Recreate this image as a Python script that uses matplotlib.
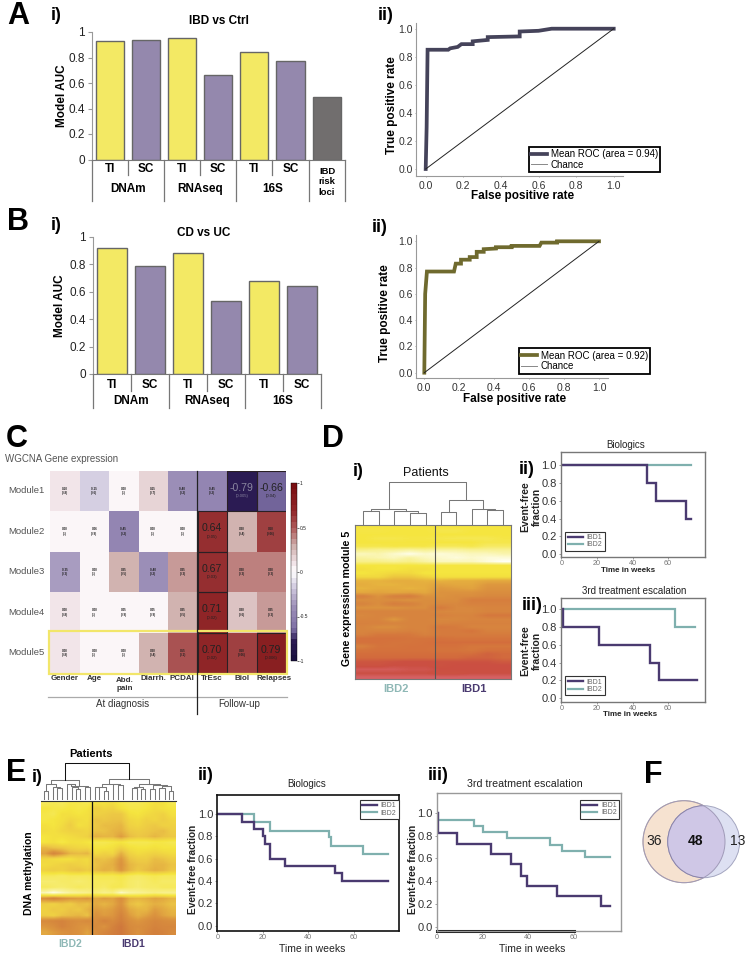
import matplotlib
matplotlib.use('Agg')
import matplotlib.pyplot as plt
from matplotlib.colors import LinearSegmentedColormap
from matplotlib.patches import Circle, Rectangle

W, H = 749, 957
plt.rcParams['font.family'] = ['Liberation Sans', 'DejaVu Sans']
plt.rcParams['axes.unicode_minus'] = True

# Bars
bar_labels_a = ['TI', 'SC', 'TI', 'SC', 'TI', 'SC', '']
auc_a = [0.93, 0.94, 0.955, 0.665, 0.84, 0.775, 0.49]
bar_labels_b = ['TI', 'SC', 'TI', 'SC', 'TI', 'SC']
auc_b = [0.92, 0.79, 0.88, 0.53, 0.68, 0.64]
groups = ['DNAm', 'RNAseq', '16S']

# ROC curves
roc_a_x = [0, 0.005, 0.01, 0.12, 0.13, 0.17, 0.19, 0.25, 0.25, 0.33, 0.33, 0.5, 0.5, 0.6, 0.67, 1]
roc_a_y = [0, 0.3, 0.85, 0.85, 0.86, 0.87, 0.89, 0.89, 0.91, 0.92, 0.94, 0.945, 0.98, 0.985, 1, 1]
roc_b_x = [0, 0.005, 0.015, 0.17, 0.18, 0.21, 0.21, 0.26, 0.26, 0.3, 0.3, 0.34, 0.34, 0.41, 0.41, 0.5, 0.5, 0.66, 0.67, 0.76, 0.76, 1]
roc_b_y = [0, 0.6, 0.77, 0.77, 0.83, 0.83, 0.86, 0.86, 0.88, 0.88, 0.92, 0.92, 0.94, 0.945, 0.955, 0.955, 0.965, 0.965, 0.99, 0.99, 1, 1]

# WGCNA heatmap
modules = ['Module1', 'Module2', 'Module3', 'Module4', 'Module5']
traits = ['Gender', 'Age', 'Abd.\npain', 'Diarrh.', 'PCDAI', 'TrEsc', 'Biol', 'Relapses']
corr = [[0.10, -0.15, 0.00, 0.15, -0.40, -0.45, -0.79, -0.66],
        [0.00, 0.06, -0.45, 0.00, 0.00, 0.64, 0.30, 0.60],
        [-0.35, 0.00, 0.25, -0.40, 0.35, 0.67, 0.38, 0.38],
        [0.08, 0.00, 0.05, 0.05, 0.25, 0.71, 0.20, 0.35],
        [0.08, 0.00, 0.00, 0.30, 0.55, 0.70, 0.60, 0.79]]
pvals = [[0.8, 0.6, 1.0, 0.7, 0.2, 0.2, 0.005, 0.04],
         [1.0, 0.9, 0.2, 1.0, 1.0, 0.05, 0.4, 0.06],
         [0.3, 1.0, 0.5, 0.2, 0.3, 0.03, 0.3, 0.3],
         [0.8, 1.0, 0.9, 0.9, 0.5, 0.02, 0.6, 0.3],
         [0.8, 1.0, 1.0, 0.4, 0.1, 0.02, 0.06, 0.006]]

# Gene expression module 5 heatmap, top row first (IBD2 | IBD1)
expr_d = [
    [72, 72, 72, 72, 72, 72, 72, 72, 72, 72],
    [73, 73, 72, 72, 72, 74, 74, 72, 72, 72],
    [72, 72, 72, 72, 72, 72, 72, 72, 72, 72],
    [72, 74, 74, 73, 73, 74, 75, 75, 75, 73],
    [72, 72, 72, 72, 72, 72, 72, 72, 74, 74],
    [74, 74, 73, 73, 73, 76, 76, 74, 78, 78],
    [84, 86, 86, 88, 86, 88, 88, 86, 86, 86],
    [92, 90, 94, 98, 94, 96, 94, 92, 92, 90],
    [88, 90, 92, 88, 92, 94, 96, 94, 96, 96],
    [84, 84, 86, 84, 88, 92, 92, 92, 96, 100],
    [72, 72, 72, 72, 72, 72, 72, 72, 72, 72],
    [70, 72, 72, 70, 70, 72, 72, 72, 72, 72],
    [72, 70, 68, 68, 72, 72, 72, 72, 72, 72],
    [68, 68, 62, 62, 66, 70, 70, 70, 70, 70],
    [56, 56, 54, 54, 56, 56, 54, 54, 52, 52],
    [54, 56, 56, 54, 54, 50, 52, 52, 46, 46],
    [56, 54, 54, 56, 54, 46, 48, 50, 44, 44],
    [52, 50, 52, 50, 52, 44, 44, 44, 42, 42],
    [36, 44, 36, 34, 44, 44, 42, 42, 40, 40],
    [42, 42, 42, 44, 42, 42, 42, 34, 34, 34],
    [38, 42, 34, 36, 42, 40, 40, 36, 36, 36],
    [44, 44, 44, 42, 42, 32, 40, 40, 38, 38],
    [38, 38, 38, 38, 38, 40, 40, 40, 38, 38],
    [40, 38, 38, 38, 38, 36, 38, 38, 30, 30],
    [38, 38, 46, 38, 38, 40, 40, 38, 38, 38],
    [36, 36, 38, 38, 38, 38, 36, 36, 36, 36],
    [38, 42, 42, 38, 38, 30, 32, 38, 38, 38],
    [38, 38, 38, 36, 38, 32, 32, 28, 36, 36],
    [36, 30, 30, 30, 36, 32, 32, 32, 32, 32],
    [26, 26, 26, 28, 28, 26, 28, 28, 28, 28],
    [26, 26, 28, 28, 26, 24, 24, 24, 24, 24],
    [36, 28, 28, 26, 26, 26, 26, 30, 30, 30],
    [28, 26, 26, 26, 26, 28, 28, 30, 26, 26],
    [24, 24, 24, 24, 24, 24, 24, 24, 18, 22],
    [22, 22, 22, 22, 22, 22, 22, 18, 18, 22],
    [12, 12, 10, 8, 8, 10, 10, 10, 10, 14],
    [10, 10, 8, 8, 8, 10, 8, 8, 8, 8],
    [4, 4, 4, 6, 6, 8, 8, 8, 8, 8],
    [8, 8, 8, 8, 8, 10, 10, 8, 8, 8],
    [2, 2, 2, 2, 2, 2, 2, 2, 2, 2]]

# DNA methylation heatmap, top row first (IBD2 | IBD1)
meth_e = [
    [74, 72, 74, 70, 70, 72, 66, 66, 64, 70, 72, 72, 70, 66, 66, 72],
    [68, 70, 70, 68, 70, 68, 58, 62, 60, 66, 70, 70, 68, 64, 66, 68],
    [70, 72, 66, 66, 68, 66, 60, 58, 56, 56, 66, 68, 64, 62, 60, 66],
    [70, 68, 66, 62, 64, 66, 54, 56, 54, 54, 62, 64, 60, 62, 58, 62],
    [66, 68, 64, 58, 66, 64, 56, 52, 52, 50, 60, 62, 58, 56, 60, 60],
    [64, 66, 62, 60, 60, 62, 54, 54, 50, 48, 56, 58, 56, 54, 52, 58],
    [68, 66, 66, 64, 62, 60, 48, 50, 50, 42, 52, 56, 54, 50, 54, 56],
    [68, 66, 70, 66, 66, 68, 72, 72, 70, 68, 72, 72, 72, 70, 70, 72],
    [50, 54, 56, 60, 62, 62, 68, 68, 66, 60, 66, 68, 68, 66, 68, 68],
    [44, 32, 40, 50, 52, 50, 64, 60, 62, 48, 60, 64, 62, 60, 62, 64],
    [62, 64, 66, 66, 62, 64, 52, 54, 50, 40, 54, 58, 58, 52, 54, 58],
    [64, 62, 60, 58, 60, 62, 54, 50, 48, 38, 50, 54, 54, 50, 50, 54],
    [60, 58, 60, 56, 54, 58, 52, 48, 50, 40, 50, 56, 52, 48, 50, 56],
    [74, 74, 76, 74, 74, 74, 72, 72, 72, 70, 74, 76, 74, 72, 74, 74],
    [78, 78, 76, 76, 78, 76, 74, 74, 74, 72, 76, 78, 76, 74, 76, 76],
    [74, 76, 78, 76, 74, 76, 74, 76, 72, 72, 76, 78, 76, 76, 74, 74],
    [92, 98, 92, 88, 86, 84, 80, 84, 82, 94, 88, 86, 84, 82, 84, 84],
    [36, 30, 36, 40, 42, 40, 46, 42, 44, 36, 48, 50, 48, 44, 46, 50],
    [58, 60, 56, 58, 52, 54, 46, 50, 46, 38, 52, 56, 52, 48, 50, 54],
    [60, 56, 58, 54, 56, 50, 42, 44, 42, 34, 46, 50, 50, 42, 46, 50],
    [58, 60, 54, 52, 50, 54, 38, 42, 40, 30, 42, 48, 44, 38, 44, 48],
    [34, 32, 30, 34, 36, 34, 36, 30, 34, 28, 36, 40, 36, 32, 34, 36],
    [40, 36, 30, 34, 38, 40, 34, 38, 30, 24, 34, 36, 34, 30, 32, 32],
    [46, 42, 38, 36, 38, 44, 36, 32, 28, 24, 32, 38, 32, 28, 30, 34]]

# Dendrograms: leaf = position, link = (left, right, height)
dend_d = (((130, 177, 272), (223, (270, 317, 278), 272), 266),
          ((362, 409, 275), (455, (502, 549, 271), 266), 241), 187)
dend_e = ((((27, 39, 122), (53, (67, 80, 115), 112), 103),
           ((97, (110, (123, 135, 118), 112), 102), (150, 165, 112), 108), 90),
          ((((180, 192, 112), (207, 220, 122), 110), (234, (248, 263, 105), 103), 102),
           (((291, 305, 115), (318, 330, 118), 112),
            ((345, 360, 118), ((373, 390, 113), (403, 415, 122), 108), 105), 103), 88), 40)

# Kaplan-Meier curves
d2_t1, d2_s1 = [0, 48, 53, 70, 73], [1, 0.8, 0.6, 0.4, 0.4]
d2_t2, d2_s2 = [0, 73], [1, 1]
d3_t1, d3_s1 = [0, 1, 21, 50, 55, 76], [1, 0.8, 0.6, 0.4, 0.2, 0.2]
d3_t2, d3_s2 = [0, 64, 75], [1, 0.8, 0.8]
e2_t1 = [0, 11, 16, 20, 21, 23, 30, 52, 55, 75]
e2_s1 = [1, 0.93, 0.87, 0.8, 0.73, 0.6, 0.53, 0.47, 0.4, 0.4]
e2_t2 = [0, 16, 23, 49, 50, 64, 75]
e2_s2 = [1, 0.93, 0.85, 0.79, 0.71, 0.64, 0.64]
e3_t1 = [0, 0.5, 9, 24, 32.6, 36.8, 39.8, 52.6, 72, 76]
e3_s1 = [1, 0.82, 0.73, 0.64, 0.55, 0.45, 0.36, 0.27, 0.18, 0.18]
e3_t2 = [0, 0.5, 16.4, 20.5, 30.7, 49.7, 54.8, 65, 76]
e3_s2 = [1, 0.94, 0.89, 0.83, 0.78, 0.72, 0.67, 0.61, 0.61]

# Venn
venn_left, venn_both, venn_right = 36, 48, 13

YELLOW, PURPLE, GREY = '#f3e964', '#9488ad', '#716e6e'
IBD1, IBD2 = '#4a3a70', '#7fb0ae'
SPINE = '#999999'
DARK = '#333333'

fig = plt.figure(figsize=(W / 100, H / 100), dpi=100)


def box(l, t, r, b):
    return fig.add_axes([l / W, 1 - b / H, (r - l) / W, (b - t) / H])


# overlay in pixel coordinates for labels
pix = fig.add_axes([0, 0, 1, 1], zorder=10)
pix.set_xlim(0, W)
pix.set_ylim(H, 0)
pix.axis('off')


def label(x, y, s, size=8, weight='normal', color='black', ha='center', rot=0):
    pix.text(x, y, s, fontsize=size, fontweight=weight, color=color, ha=ha, va='center', rotation=rot)


def bar_panel(l, t, r, b, values, names, colors, low, short, text_y, group_y, pad):
    ax = box(l, t, r, b)
    n = len(values)
    ax.bar(range(n), values, width=0.78, color=colors, edgecolor='#666666', linewidth=1)
    ax.set_xlim(-0.5, n - 0.5)
    ax.set_ylim(0, 1)
    ax.set_yticks([0, 0.2, 0.4, 0.6, 0.8, 1])
    ax.set_yticklabels(['0', '0.2', '0.4', '0.6', '0.8', '1'], fontsize=8.5, color='#222222')
    ax.set_xticks([])
    ax.tick_params(axis='y', length=3, width=0.8, color=SPINE, pad=2)
    ax.spines['top'].set_visible(False)
    ax.spines['right'].set_visible(False)
    ax.spines['left'].set_color(SPINE)
    ax.spines['bottom'].set_color('#777777')
    tr = ax.get_xaxis_transform()
    for i in range(n + 1):
        x = i - 0.5
        long_tick = i % 2 == 0 or i > 6
        ax.plot([x, x], [0, low if long_tick else short], transform=tr, clip_on=False,
                color='#777777', lw=0.9)
    for i, s in enumerate(names):
        if s:
            ax.text(i, text_y, s, transform=tr, fontsize=8.5, fontweight='bold', ha='center', va='center')
    for i, s in enumerate(groups):
        ax.text(2 * i + 0.5, group_y, s, transform=tr, fontsize=8.5, fontweight='bold', ha='center', va='center')
    ax.set_ylabel('Model AUC', fontsize=8.5, fontweight='bold', labelpad=pad)
    return ax


# A i
bar_panel(91.7, 32, 344.7, 159.5, auc_a, bar_labels_a,
          [YELLOW, PURPLE, YELLOW, PURPLE, YELLOW, PURPLE, GREY], -0.325, -0.12, -0.075, -0.231, 0)
label(327, 182, 'IBD\nrisk\nloci', size=6.8, weight='bold')
label(219, 21, 'IBD vs Ctrl', size=8.5, weight='bold')
# B i
bar_panel(92.7, 236.7, 320.7, 374, auc_b, bar_labels_b,
          [YELLOW, PURPLE, YELLOW, PURPLE, YELLOW, PURPLE], -0.245, -0.124, -0.08, -0.197, 2)
label(204, 232.7, 'CD vs UC', size=8.5, weight='bold')


def roc_panel(l, t, r, b, x0, x1, y0, y1, xs, ys, color, area, leg_c, xlab_y, ylab_x, handle):
    ax = box(l, t, r, b)
    sx, sy = x1 - x0, y0 - y1
    ax.set_xlim((l - x0) / sx, (r - x0) / sx)
    ax.set_ylim((y0 - b) / sy, (y0 - t) / sy)
    ax.plot(xs, ys, color=color, lw=2.7, solid_joinstyle='miter', label='Mean ROC (area = %.2f)' % area)
    ax.plot([0, 1], [0, 1], color='#222222', lw=0.7, label='Chance')
    ticks = [0, 0.2, 0.4, 0.6, 0.8, 1]
    ax.set_xticks(ticks)
    ax.set_yticks(ticks)
    ax.set_xticklabels(['%.1f' % v for v in ticks], fontsize=7.5, color=DARK)
    ax.set_yticklabels(['%.1f' % v for v in ticks], fontsize=7.5, color=DARK)
    ax.tick_params(length=1, width=0.6, color=SPINE, pad=1)
    ax.tick_params(axis='x', pad=2.5)
    ax.spines['top'].set_visible(False)
    ax.spines['right'].set_visible(False)
    ax.spines['left'].set_color(SPINE)
    ax.spines['bottom'].set_color(SPINE)
    leg = ax.legend(loc='center', bbox_to_anchor=leg_c, bbox_transform=pix.transData, fontsize=7,
                    fancybox=False, edgecolor='black', framealpha=1, borderpad=0.25, labelspacing=0.05,
                    handlelength=handle, handletextpad=0.4, borderaxespad=0)
    leg.get_frame().set_linewidth(1.3)
    leg.get_lines()[1].set_color('#888888')
    leg.set_zorder(20)
    label((x0 + x1) / 2 + 3, xlab_y, 'False positive rate', size=8.5, weight='bold')
    label(ylab_x, (y0 + y1) / 2 + 6, 'True positive rate', size=8.5, weight='bold', rot=90)


roc_panel(415.7, 23, 623, 176, 425.7, 613.7, 169, 28.7, roc_a_x, roc_a_y, '#45435a', 0.94, (594.5, 159.5), 196, 392, 1.6)
roc_panel(415.7, 235, 608, 378.3, 424.3, 599, 372.7, 241.3, roc_b_x, roc_b_y, '#6f6a2e', 0.92, (584.5, 361), 399, 385, 1.6)

# C heatmap
corr_cmap = LinearSegmentedColormap.from_list('corr', [
    (0.0, '#1a1040'), (0.105, '#2c1c55'), (0.17, '#7d6fa5'), (0.3, '#9d90b8'), (0.425, '#d8d2e4'),
    (0.5, '#ffffff'), (0.55, '#f2e4e8'), (0.65, '#cfb0ad'), (0.75, '#b0605f'), (0.85, '#92282a'), (1.0, '#7a0f12')], N=32)
axc = box(50, 470.7, 286, 673.3)
mesh = axc.pcolormesh(corr, cmap=corr_cmap, vmin=-1, vmax=1)
axc.invert_yaxis()
axc.set_xticks([])
axc.set_yticks([])
for s in axc.spines.values():
    s.set_visible(False)
for i in range(len(modules)):
    label(44.7, 470.7 + 40.5 * (i + 0.5), modules[i], size=6.8, color='#555555', ha='right')
    for j in range(len(traits)):
        r = corr[i][j]
        if pvals[i][j] <= 0.05:
            big = '#8a86a0' if r < -0.75 else '#222222'
            axc.text(j + 0.5, i + 0.42, '%.2f' % r, fontsize=7.6, ha='center', va='center', color=big)
            axc.text(j + 0.5, i + 0.63, '(%g)' % pvals[i][j], fontsize=3, ha='center', va='center', color=big)
            axc.add_patch(Rectangle((j, i), 1, 1, fill=False, edgecolor='#2a2025', lw=0.8))
        else:
            axc.text(j + 0.5, i + 0.5, '%.2f\n(%g)' % (r, pvals[i][j]), fontsize=2.2, fontweight='bold',
                     ha='center', va='center', color='#222222')
caxc = box(290.7, 483, 296.7, 661)
cb = fig.colorbar(mesh, cax=caxc, ticks=[-1, -0.5, 0, 0.5, 1])
cb.ax.set_yticklabels(['-1', '-0.5', '0', '0.5', '1'], fontsize=3.5, color='#222222')
cb.ax.tick_params(length=1.5, width=0.4, pad=0.5)
cb.outline.set_linewidth(0.3)
for x, s in zip([65, 94.7, 125, 153, 182, 212, 242, 274], traits):
    y = 679 if '\n' not in s else 684.5
    label(x, y, s, size=5.8, weight='bold', color='#333333')
pix.plot([48, 287], [696.7, 696.7], color='#aaaaaa', lw=0.9)
pix.plot([196.7, 196.7], [470.7, 714], color='#222222', lw=0.9)
pix.add_patch(Rectangle((49, 631.3), 238, 42.7, fill=False, edgecolor='#f2e66a', lw=1.6))
label(122.7, 704, 'At diagnosis', size=7, color='#333333')
label(239, 704, 'Follow-up', size=7, color='#333333')
label(5, 459, 'WGCNA Gene expression', size=7, color='#555555', ha='left')

heat_cmap = LinearSegmentedColormap.from_list('heat', [
    (0.0, '#d9666e'), (0.08, '#cb4f42'), (0.25, '#d4703c'), (0.40, '#d8883f'), (0.55, '#e6b03e'),
    (0.72, '#f5e53f'), (0.88, '#f9f3a0'), (1.0, '#fffff5')])
meth_cmap = LinearSegmentedColormap.from_list('meth', [
    (0.0, '#cb4f42'), (0.25, '#d07a3c'), (0.40, '#dc963f'), (0.55, '#ecc645'),
    (0.68, '#f5e53f'), (0.88, '#f9f3a0'), (1.0, '#fffff5')])


def dendrogram(node, xo, yo, base, color='#777777', root=None):
    # returns the top point of a node in zoomed-crop units
    if not isinstance(node, tuple):
        return node, None
    xl, yl = dendrogram(node[0], xo, yo, base, color)
    xr, yr = dendrogram(node[1], xo, yo, base, color)
    y = node[2]
    c = root if root else color
    pix.plot([xo + xl / 3, xo + xl / 3, xo + xr / 3, xo + xr / 3],
             [yo + (base if yl is None else yl) / 3, yo + y / 3, yo + y / 3,
              yo + (base if yr is None else yr) / 3], color=c, lw=0.75)
    return (xl + xr) / 2, y


# D i
axd = box(355.3, 525.3, 510.7, 679.3)
axd.imshow(expr_d, cmap=heat_cmap, vmin=0, vmax=100, aspect='auto', interpolation='bilinear')
axd.axvline(4.6, color='#555555', lw=0.8)
axd.set_xticks([])
axd.set_yticks([])
for s in axd.spines.values():
    s.set_color('#777777')
dendrogram(dend_d, 320, 420, 313)
label(426, 473, 'Patients', size=9, color='#111111')
label(346.7, 598, 'Gene expression module 5', size=7.7, weight='bold', rot=90)
label(396, 688.7, 'IBD2', size=8, weight='bold', color='#8fb8b6')
label(473.7, 688.7, 'IBD1', size=8, weight='bold', color=IBD1)

# E i
axe = box(41, 800.7, 176, 935)
axe.imshow(meth_e, cmap=meth_cmap, vmin=0, vmax=100, aspect='auto', interpolation='bilinear')
axe.axvline(5.6, color='#111111', lw=0.9)
axe.set_xticks([])
axe.set_yticks([])
for s in axe.spines.values():
    s.set_visible(False)
axe.spines['top'].set_visible(True)
axe.spines['top'].set_color('#333333')
dendrogram(dend_e, 35, 750, 148, root='#111111')
label(91, 754, 'Patients', size=8, weight='bold')
label(29, 873, 'DNA methylation', size=7.5, weight='bold', rot=90)
label(70, 944, 'IBD2', size=7.5, weight='bold', color='#8fb8b6')
label(133, 944, 'IBD1', size=7.5, weight='bold', color=IBD1)


def km_panel(box_px, x0, xs, y0, y1, c1, c2, title, title_xy, xlab, xlab_xy, xbold, ylab, ylab_xy, ysize,
             leg_c, yfont, frame='#777777', frame_lw=1.0, title_size=7):
    l, t, r, b = box_px
    ax = box(l, t, r, b)
    sy = y0 - y1
    ax.set_xlim((l - x0) / xs, (r - x0) / xs)
    ax.set_ylim((y0 - b) / sy, (y0 - t) / sy)
    ax.step(c2[0], c2[1], where='post', color=IBD2, lw=1.6, label='IBD2', solid_joinstyle='miter')
    ax.step(c1[0], c1[1], where='post', color=IBD1, lw=1.7, label='IBD1', solid_joinstyle='miter')
    ax.set_xticks([0, 20, 40, 60])
    ax.set_yticks([0, 0.2, 0.4, 0.6, 0.8, 1])
    ax.set_xticklabels(['0', '20', '40', '60'], fontsize=5.2, color='#777777')
    ax.set_yticklabels(['%.1f' % v for v in [0, 0.2, 0.4, 0.6, 0.8, 1]], fontsize=yfont, color=DARK)
    ax.tick_params(length=1.5, width=0.5, pad=1.5, color='#777777')
    ax.tick_params(axis='x', pad=0.8)
    for s in ax.spines.values():
        s.set_color(frame)
        s.set_linewidth(frame_lw)
    hs, ls = ax.get_legend_handles_labels()
    leg = ax.legend(hs[::-1], ls[::-1], loc='center', bbox_to_anchor=leg_c, bbox_transform=pix.transData,
                    fontsize=5, fancybox=False, edgecolor='#333333', framealpha=1, borderpad=0.35,
                    labelspacing=0.05, handlelength=2.2, handletextpad=0.5, borderaxespad=0,
                    labelcolor='#666666')
    leg.get_frame().set_linewidth(0.8)
    label(title_xy[0], title_xy[1], title, size=title_size, color='#222222')
    label(xlab_xy[0], xlab_xy[1], xlab, size=5.8 if xbold else 7.5, weight='bold' if xbold else 'normal', color='#222222')
    label(ylab_xy[0], ylab_xy[1], ylab, size=ysize, weight='bold', rot=90, color='#222222')
    return ax


km_panel((560.7, 452.3, 704.7, 556.7), 561.3, 1.78, 554, 465.3, (d2_t1, d2_s1), (d2_t2, d2_s2),
         'Biologics', (626, 445), 'Time in weeks', (628, 570), True,
         'Event-free\nfraction', (530.7, 506.7), 7.5, (585, 541.3), 8)
km_panel((560.7, 597.7, 704.7, 701.7), 561.3, 1.78, 698.3, 609, (d3_t1, d3_s1), (d3_t2, d3_s2),
         '3rd treatment escalation', (634, 591), 'Time in weeks', (630, 714), True,
         'Event-free\nfraction', (530.7, 651), 7.5, (585, 685.8), 8)
km_panel((217.3, 795, 399, 930.7), 217.3, 2.27, 925.7, 814, (e2_t1, e2_s1), (e2_t2, e2_s2),
         'Biologics', (306.7, 784), 'Time in weeks', (311.7, 949), False,
         'Event-free fraction', (192.7, 869), 7.3, (379.2, 809.6), 8, frame='#111111', frame_lw=1.2)
axe3 = km_panel((436.7, 793.3, 620.7, 930.7), 436.7, 2.28, 926.7, 813, (e3_t1, e3_s1), (e3_t2, e3_s2),
                '3rd treatment escalation', (525, 784), 'Time in weeks', (531.7, 949), False,
                'Event-free fraction', (412.7, 869), 7.3, (599.4, 809.3), 8, frame='#999999', title_size=7.7)
axe3.plot([0, 60], [axe3.get_ylim()[0]] * 2, color='#111111', lw=2.2, clip_on=False)

# F venn
c1 = Circle((684, 841.7), 41, facecolor='#f6e2d0', edgecolor='#c4ae9c', lw=0.7)
c2 = Circle((703.7, 841.7), 36, facecolor='#dde0f2', edgecolor='#a4a6c0', lw=0.7)
c3 = Circle((703.7, 841.7), 36, facecolor='#cfc7e6', edgecolor='#8a82a8', lw=0.7)
c1b = Circle((684, 841.7), 41, facecolor='none', edgecolor='#a09ab8', lw=0.7)
pix.add_patch(c1)
pix.add_patch(c2)
pix.add_patch(c3)
c3.set_clip_path(c1b.get_path(), c1b.get_patch_transform() + pix.transData)
pix.add_patch(c1b)
label(654, 841, str(venn_left), size=10, color='#222222')
label(695, 841, str(venn_both), size=10, weight='bold', color='#111111')
label(737.7, 841, str(venn_right), size=10, color='#222222')

# panel letters and numbering
for s, x, y in [('A', 7, 16), ('B', 7, 222), ('C', 6, 439), ('D', 322, 439), ('E', 6, 773), ('F', 644, 775)]:
    label(x, y, s, size=22, weight='bold', ha='left')
for s, x, y in [('i)', 51, 16), ('ii)', 378, 16), ('i)', 51, 226), ('ii)', 372, 227), ('i)', 353, 472),
                ('ii)', 519, 469), ('iii)', 522, 606), ('i)', 32, 777), ('ii)', 198, 776), ('iii)', 428, 776)]:
    label(x, y, s, size=13, weight='bold', ha='left')

fig.savefig('out.png', dpi=100)
